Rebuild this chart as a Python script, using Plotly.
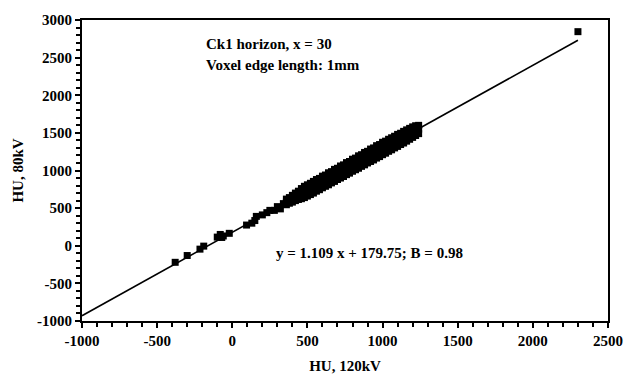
import plotly.graph_objects as go

# HU at 120 kV vs HU at 80 kV, one voxel per point
hu_120kv = [
    -380, -300, -215, -190, -100, -80, -70, -60, -20, 95, 130, 150, 160, 200, 230, 250,
    280, 300, 320, 340,
    360, 360, 360, 380, 380, 380, 400, 400, 400, 420, 420, 420, 440, 440, 440,
    460, 460, 460, 480, 480, 480, 500, 500, 500, 520, 520, 520, 540, 540, 540,
    560, 560, 560, 580, 580, 580, 600, 600, 600, 620, 620, 620, 640, 640, 640,
    660, 660, 660, 680, 680, 680, 700, 700, 700, 720, 720, 720, 740, 740, 740,
    760, 760, 760, 780, 780, 780, 800, 800, 800, 820, 820, 820, 840, 840, 840,
    860, 860, 860, 880, 880, 880, 900, 900, 900, 920, 920, 920, 940, 940, 940,
    960, 960, 960, 980, 980, 980, 1000, 1000, 1000, 1020, 1020, 1020, 1040, 1040, 1040,
    1060, 1060, 1060, 1080, 1080, 1080, 1100, 1100, 1100, 1120, 1120, 1120,
    1140, 1140, 1140, 1160, 1160, 1160, 1180, 1180, 1180, 1200, 1200, 1200,
    1220, 1220, 1220, 1240, 1240, 1240,
    2300,
]
hu_80kv = [
    -220, -130, -45, -5, 115, 150, 110, 130, 165, 275, 300, 335, 390, 410, 440, 470,
    470, 520, 490, 560,
    620, 580, 545, 640, 600, 565, 670, 625, 580, 700, 645, 600, 725, 670, 615,
    760, 695, 625, 790, 705, 640, 810, 740, 660, 830, 750, 680, 855, 785, 700,
    880, 800, 725, 895, 830, 745, 925, 840, 770, 940, 870, 790, 970, 895, 810,
    985, 905, 835, 1015, 940, 855, 1030, 950, 880, 1060, 985, 900, 1075, 1005, 920,
    1105, 1020, 945, 1120, 1050, 965, 1150, 1060, 990, 1165, 1095, 1010, 1195, 1105, 1030,
    1210, 1140, 1055, 1240, 1150, 1075, 1255, 1185, 1100, 1285, 1195, 1120, 1300, 1230, 1140,
    1330, 1240, 1165, 1345, 1275, 1185, 1375, 1285, 1210, 1390, 1315, 1230, 1415, 1330, 1255,
    1435, 1360, 1275, 1455, 1370, 1300, 1480, 1405, 1320, 1495, 1415, 1345,
    1520, 1450, 1365, 1540, 1460, 1390, 1560, 1495, 1415, 1580, 1505, 1440,
    1595, 1535, 1465, 1600, 1550, 1490,
    2845,
]

# Linear fit reported on the chart
slope = 1.109
intercept = 179.75
fit_x = [-1000, 2300]
fit_y = [slope * v + intercept for v in fit_x]

x_ticks = [-1000, -500, 0, 500, 1000, 1500, 2000, 2500]
y_ticks = [-1000, -500, 0, 500, 1000, 1500, 2000, 2500, 3000]

font_family = "Liberation Serif"


def bold_labels(values):
    return [f"<b>{v}</b>" for v in values]


fig = go.Figure()
fig.add_trace(go.Scatter(
    x=fit_x, y=fit_y, mode="lines",
    line=dict(color="black", width=1.6),
    showlegend=False, hoverinfo="skip",
))
fig.add_trace(go.Scatter(
    x=hu_120kv, y=hu_80kv, mode="markers",
    marker=dict(symbol="square", size=7, color="black", line=dict(width=0)),
    showlegend=False,
))

axis_common = dict(
    showgrid=False, zeroline=False,
    showline=True, linecolor="black", linewidth=2, mirror=True,
    ticks="outside", ticklen=5, tickwidth=1.5, tickcolor="black",
    tickfont=dict(family=font_family, size=15, color="black"),
    title_font=dict(family=font_family, size=15, color="black"),
)

fig.update_layout(
    width=635, height=384,
    margin=dict(l=82, r=15, t=17, b=58),
    paper_bgcolor="white", plot_bgcolor="white",
    xaxis=dict(
        range=[-1000, 2500],
        tickmode="array", tickvals=x_ticks, ticktext=bold_labels(x_ticks),
        minor=dict(tickmode="linear", tick0=-1000, dtick=100, ticks="outside",
                   ticklen=4, tickcolor="black", tickwidth=1.5),
        title=dict(text="<b>HU, 120kV</b>", standoff=12),
        **axis_common,
    ),
    yaxis=dict(
        range=[-1000, 3000],
        tickmode="array", tickvals=y_ticks, ticktext=bold_labels(y_ticks),
        minor=dict(tickmode="linear", tick0=-1000, dtick=100, ticks="outside",
                   ticklen=4, tickcolor="black", tickwidth=1.5),
        title=dict(text="<b>HU, 80kV</b>", standoff=10),
        **axis_common,
    ),
    annotations=[
        dict(x=-187, y=2676, xref="x", yref="y", xanchor="left", yanchor="middle",
             text="<b>Ck1 horizon, x = 30</b>", showarrow=False,
             font=dict(family=font_family, size=15, color="black")),
        dict(x=-187, y=2404, xref="x", yref="y", xanchor="left", yanchor="middle",
             text="<b>Voxel edge length: 1mm</b>", showarrow=False,
             font=dict(family=font_family, size=15, color="black")),
        dict(x=275, y=-94, xref="x", yref="y", xanchor="left", yanchor="middle",
             text="<b>y = 1.109 x + 179.75; B = 0.98</b>", showarrow=False,
             font=dict(family=font_family, size=15, color="black")),
    ],
)

fig.write_html("out.html")
